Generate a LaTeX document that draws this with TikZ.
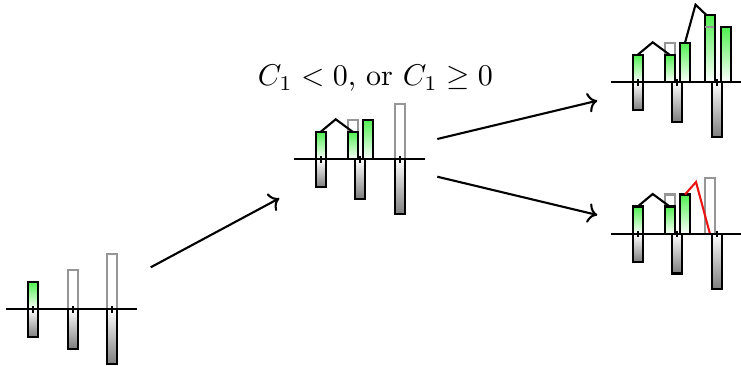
\documentclass[tikz,border=0pt]{standalone}
\usetikzlibrary{arrows.meta}
\definecolor{leaf}{RGB}{80,240,80}
\definecolor{ghostgray}{RGB}{150,150,150}
\definecolor{slate}{RGB}{125,125,125}
\definecolor{flame}{RGB}{235,20,20}
\tikzset{
  >={To},
  px/.style={x=0.3333pt,y=-0.3333pt},
  edge/.style={line width=0.7pt},
  upbar/.style={edge,draw=black,top color=leaf,bottom color=white},
  lowbar/.style={edge,draw=black,top color=white,bottom color=slate},
  ghost/.style={edge,draw=ghostgray},
  roof/.style={edge,draw=#1,line join=miter},
  roof/.default=black,
  flow/.style={->,edge},
  % lower bars of the three slots
  pics/lows/.style={code={
    \foreach \x/\h in {0/28,39.6/39.5,79.2/55}
      \draw[lowbar] (\x-5,0) rectangle (\x+5,\h);
  }},
  % axis with a tick under every slot
  pics/ruler/.style={code={
    \draw[edge] (-27,0) -- (104,0);
    \foreach \x in {0,39.6,79.2} \draw[edge] (\x,-3.3) -- (\x,3.3);
  }},
}

\begin{document}
\begin{tikzpicture}[px]
  \useasboundingbox (0,0) rectangle (741,366);
  % start
  \begin{scope}[shift={(33.2,309.3)}]
    \pic {lows};
    \draw[upbar] (-5,0) rectangle (5,-27.5);
    \foreach \x/\h in {39.6/39.5,79.2/55}
      \draw[ghost] (\x-5,0) rectangle (\x+5,-\h);
    \pic {ruler};
    \coordinate (a out) at (117.5,-42);
  \end{scope}
  % first merge
  \begin{scope}[shift={(320.7,159.3)}]
    \pic {lows};
    \draw[ghost] (27,0) rectangle (37,-39.5);
    \draw[ghost] (74.2,0) rectangle (84.2,-55);
    \draw[upbar] (-5,0) rectangle (5,-27.5);
    \draw[upbar] (27,0) rectangle (37,-27.5);
    \draw[upbar] (42.3,0) rectangle (52.3,-39.5);
    \draw[roof] (0,-27.5) -- (15,-40) -- (32,-27.5);
    \pic {ruler};
    \coordinate (b in) at (-41.4,39);
    \coordinate (b up) at (116.6,-20.3);
    \coordinate (b down) at (116.6,17.4);
  \end{scope}
  \node[font=\normalsize,anchor=base] (cond) at (375.3,86) {$C_1<0$, or $C_1\geq 0$};
  % second merge
  \begin{scope}[shift={(637.7,82.3)}]
    \pic {lows};
    \draw[ghost] (27,0) rectangle (37,-39.5);
    \draw[upbar] (-5,0) rectangle (5,-27.5);
    \draw[upbar] (27,0) rectangle (37,-27.5);
    \draw[upbar] (42.3,0) rectangle (52.3,-39.5);
    \draw[upbar] (67,0) rectangle (77,-67);
    \draw[ghost] (67.3,-55) -- (76.7,-55);
    \draw[upbar] (83.2,0) rectangle (93.2,-55);
    \draw[roof] (0,-27.5) -- (15,-40) -- (32,-27.5);
    \draw[roof] (47.3,-39.5) -- (57.8,-77.6) -- (69,-67);
    \pic {ruler};
    \coordinate (c in) at (-40.4,18.4);
  \end{scope}
  % cut off
  \begin{scope}[shift={(637.7,234)}]
    \pic {lows};
    \draw[ghost] (27,0) rectangle (37,-39.5);
    \draw[ghost] (67,0) rectangle (77,-55.7);
    \draw[upbar] (-5,0) rectangle (5,-27.5);
    \draw[upbar] (27,0) rectangle (37,-27.5);
    \draw[upbar] (42.3,0) rectangle (52.3,-39.5);
    \draw[roof] (0,-27.5) -- (15,-40) -- (32,-27.5);
    \draw[roof=flame] (47.3,-39.5) -- (58.3,-52) -- (72.3,0);
    \pic {ruler};
    \coordinate (d in) at (-40.4,-19);
  \end{scope}
  \draw[flow] (a out) -- (b in);
  \draw[flow] (b up) -- (c in);
  \draw[flow] (b down) -- (d in);
\end{tikzpicture}
\end{document}
